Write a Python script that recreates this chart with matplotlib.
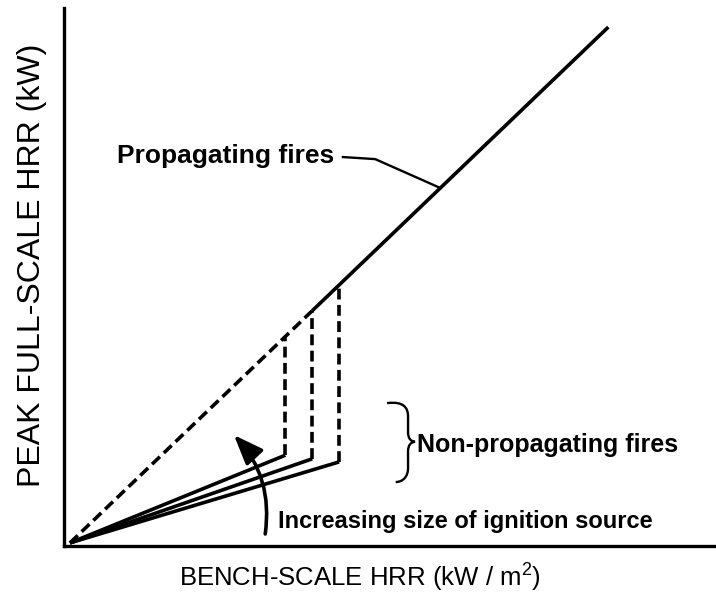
import matplotlib
matplotlib.use("Agg")
import matplotlib.pyplot as plt
from matplotlib.patches import FancyArrowPatch, PathPatch
from matplotlib.path import Path

plt.rcParams['font.family'] = ['Liberation Sans', 'DejaVu Sans']
plt.rcParams['mathtext.fontset'] = 'custom'
plt.rcParams['mathtext.rm'] = 'Liberation Sans'
plt.rcParams['mathtext.it'] = 'Liberation Sans'

# schematic data (arbitrary units, bench-scale vs full-scale HRR)
prop_start = 4.5          # where the propagating line becomes solid
prop_end = 10.0
ignition_x = [4.0, 4.5, 5.0]        # bench-scale HRR for each ignition source
nonprop_peak = [1.7, 1.63, 1.57]    # peak full-scale HRR when fire does not propagate

lw = 2.6
dash = (0, (3.0, 1.5))

fig = plt.figure(figsize=(7.16, 6.13), dpi=100)
ax = fig.add_axes([0.0894, 0.1093, 0.9106, 0.8777])
ax.set_xlim(-0.11, 12.0)
ax.set_ylim(-0.06, 10.37)
for s in ['top', 'right']:
    ax.spines[s].set_visible(False)
for s in ['left', 'bottom']:
    ax.spines[s].set_linewidth(2.4)
ax.set_xticks([])
ax.set_yticks([])

# propagating fires: full-scale proportional to bench-scale
ax.plot([0, prop_start], [0, prop_start], color='black', lw=lw, ls=dash, dash_capstyle='butt')
ax.plot([prop_start, prop_end], [prop_start, prop_end], color='black', lw=lw, solid_capstyle='butt')

# non-propagating fires for increasing ignition source
for x, y in zip(ignition_x, nonprop_peak):
    ax.plot([0, x], [0, y], color='black', lw=lw, solid_capstyle='butt')
    ax.plot([x, x], [y, x], color='black', lw=lw, ls=dash, dash_capstyle='butt')

# labels
bold = dict(fontweight='bold', color='black')
ax.text(0.87, 7.36, 'Propagating fires', fontsize=19, va='baseline', ha='left', **bold)
ax.plot([5.07, 5.67, 6.88], [7.48, 7.44, 6.88], color='black', lw=1.7)

ax.text(6.45, 1.76, 'Non-propagating fires', fontsize=18, va='baseline', ha='left', **bold)
ax.text(3.87, 0.29, 'Increasing size of ignition source', fontsize=17, va='baseline', ha='left',
        **bold)

# curly brace
verts = [(5.89, 2.71), (6.20, 2.75), (6.28, 2.62), (6.28, 2.45),
         (6.28, 2.15),
         (6.28, 2.02), (6.33, 1.97), (6.41, 1.96),
         (6.33, 1.95), (6.28, 1.90), (6.28, 1.77),
         (6.28, 1.45),
         (6.28, 1.28), (6.18, 1.18), (6.05, 1.18)]
codes = [Path.MOVETO, Path.CURVE4, Path.CURVE4, Path.CURVE4,
         Path.LINETO,
         Path.CURVE4, Path.CURVE4, Path.CURVE4,
         Path.CURVE4, Path.CURVE4, Path.CURVE4,
         Path.LINETO,
         Path.CURVE4, Path.CURVE4, Path.CURVE4]
ax.add_patch(PathPatch(Path(verts, codes), fill=False, lw=1.7, edgecolor='black'))

# curved arrow
arr = FancyArrowPatch(posA=(3.62, 0.12), posB=(3.01, 2.13),
                      connectionstyle='arc3,rad=0.25',
                      arrowstyle='-|>,head_length=0.9,head_width=0.35',
                      mutation_scale=20, lw=lw, color='black', clip_on=False)
ax.add_patch(arr)

fig.text(0.503, 0.057, r'BENCH-SCALE HRR (kW / m$^2$)', fontsize=18.5, ha='center', va='center')
fig.text(0.045, 0.568, 'PEAK FULL-SCALE HRR (kW)', fontsize=23, ha='center', va='center',
         rotation=90)

fig.savefig('out.png', dpi=100)
